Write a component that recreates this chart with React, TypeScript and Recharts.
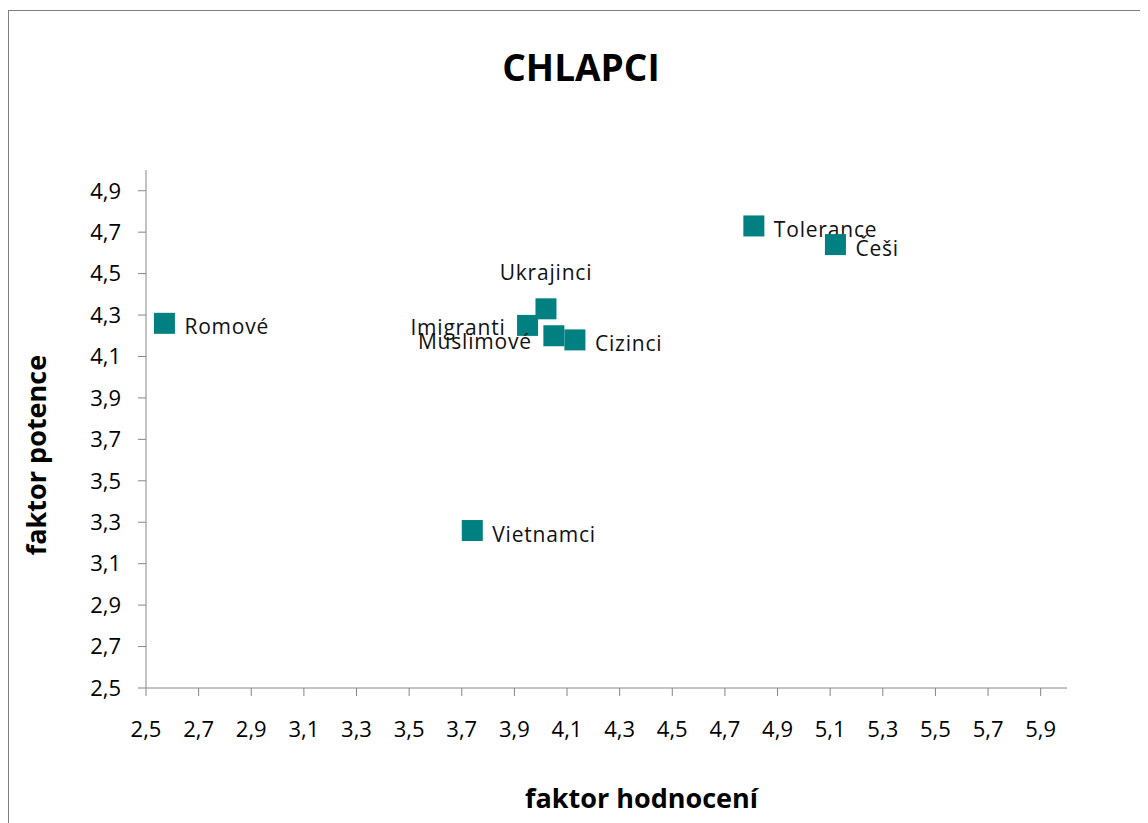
import { ScatterChart, Scatter, XAxis, YAxis } from "recharts";

const names = ["Romové", "Imigranti", "Ukrajinci", "Muslimové", "Cizinci", "Vietnamci", "Tolerance", "Češi"];
const hodnoceni = [2.57, 3.95, 4.02, 4.05, 4.13, 3.74, 4.81, 5.12];
const potence = [4.26, 4.25, 4.33, 4.2, 4.18, 3.26, 4.73, 4.64];

const xTicks = [2.5, 2.7, 2.9, 3.1, 3.3, 3.5, 3.7, 3.9, 4.1, 4.3, 4.5, 4.7, 4.9, 5.1, 5.3, 5.5, 5.7, 5.9];
const yTicks = [2.5, 2.7, 2.9, 3.1, 3.3, 3.5, 3.7, 3.9, 4.1, 4.3, 4.5, 4.7, 4.9];

const data = names.map((name, i) => ({ name, x: hodnoceni[i], y: potence[i] }));

// where each label sits relative to its marker (default: right)
const labelSide: Record<string, "top" | "left" | "right"> = {
  Ukrajinci: "top",
  Imigranti: "left",
  Muslimové: "left",
};

const FONT = "'Open Sans', sans-serif";
const TEAL = "#008080";
const AXIS = "#868686";
const fmt = (v: number) => v.toFixed(1).replace(".", ",");

function Marker(props: any) {
  const { cx, cy, payload } = props;
  const side = labelSide[payload.name] ?? "right";
  const s = 21;
  let tx = cx + 20;
  let ty = cy + 3;
  let anchor: "start" | "end" | "middle" = "start";
  if (side === "left") {
    tx = cx - 22;
    anchor = "end";
    ty = payload.name === "Muslimové" ? cy + 5 : cy + 2;
  } else if (side === "top") {
    tx = cx;
    ty = cy - 37;
    anchor = "middle";
  }
  return (
    <g>
      <rect x={cx - s / 2} y={cy - s / 2} width={s} height={s} fill={TEAL} />
      <text
        x={tx}
        y={ty}
        textAnchor={anchor}
        dominantBaseline="central"
        fontSize={21}
        letterSpacing={0.8}
        fontFamily={FONT}
        fill="#111"
      >
        {payload.name}
      </text>
    </g>
  );
}

export default function App() {
  return (
    <div
      style={{
        position: "relative",
        marginTop: 2,
        width: 1160,
        height: 820,
        borderLeft: `1px solid #7f7f7f`,
        borderTop: `1px solid #7f7f7f`,
        fontFamily: FONT,
      }}
    >
      <div
        style={{
          position: "absolute",
          left: 0,
          top: 30,
          width: 1144,
          textAlign: "center",
          fontSize: 37,
          fontWeight: 700,
        }}
      >
        CHLAPCI
      </div>
      <ScatterChart width={1140} height={812} margin={{ top: 159, right: 82, bottom: 75, left: 0 }}>
        <XAxis
          type="number"
          dataKey="x"
          domain={[2.5, 6.0]}
          ticks={xTicks}
          tickFormatter={fmt}
          interval={0}
          height={60}
          stroke={AXIS}
          tickSize={8}
          tickMargin={25}
          tick={{ fill: "#000", fontSize: 22, fontFamily: FONT }}
          allowDataOverflow
          label={{
            value: "faktor hodnocení",
            position: "bottom",
            dx: 35,
            dy: 36,
            style: { fontSize: 27, fontWeight: 700, fill: "#000", fontFamily: FONT },
          }}
        />
        <YAxis
          type="number"
          dataKey="y"
          domain={[2.5, 5.0]}
          ticks={yTicks}
          tickFormatter={fmt}
          interval={0}
          width={137}
          stroke={AXIS}
          tickSize={8}
          tickMargin={17}
          tick={{ fill: "#000", fontSize: 22, fontFamily: FONT }}
          allowDataOverflow
          label={{
            value: "faktor potence",
            angle: -90,
            position: "insideLeft",
            dx: 22,
            dy: 26,
            style: { fontSize: 27, fontWeight: 700, fill: "#000", fontFamily: FONT, textAnchor: "middle" },
          }}
        />
        <Scatter data={data} fill={TEAL} shape={Marker} isAnimationActive={false} />
      </ScatterChart>
    </div>
  );
}
